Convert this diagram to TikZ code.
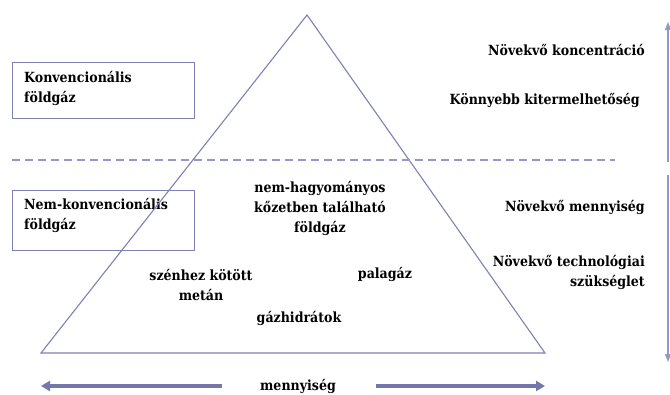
\documentclass[tikz,border=0pt]{standalone}
\usepackage{fontspec}
\setmainfont{DejaVu Serif Condensed}
\usetikzlibrary{arrows.meta}
\definecolor{lila}{HTML}{7E80B4}
\definecolor{lilalight}{HTML}{9597C9}
\definecolor{lilaarrow}{HTML}{7477AC}
\tikzset{
	lbl/.style={font=\fontsize{14}{20}\selectfont\bfseries, inner sep=0pt, align=center},
	lblr/.style={lbl, align=right, anchor=east},
	box/.style={draw=lila, line width=0.9pt, minimum width=182pt, minimum height=56pt, anchor=north west, inner sep=0pt},
	boxtext/.style={lbl, align=left, anchor=north west},
	thickarrow/.style={lilaarrow, line width=3.5pt, -{Triangle[length=9pt,width=10pt]}},
	thinarrow/.style={lilalight, line width=1.2pt, -{Triangle[length=8pt,width=6pt]}}
}
\begin{document}
\begin{tikzpicture}[x=1pt,y=-1pt]
			\useasboundingbox (0,0) rectangle (670,394);
			\coordinate (apex) at (307,15);
			\coordinate (bl) at (41,353);
			\coordinate (br) at (545,353);
			\coordinate (dl) at (12,160);
			\coordinate (dr) at (615,160);
			% boxes
			\node[box] (konv) at (12,62) {};
			\node[box, minimum height=60pt] (nemkonv) at (12,190) {};
			\node[boxtext] (konvtxt) at (24,71) {Konvencionális\\földgáz};
			\node[boxtext] (nemkonvtxt) at (24,198) {Nem-konvencionális\\földgáz};
			% triangle and line
			\draw[lila, line width=1.1pt, line join=miter] (apex) -- (br) -- (bl) -- cycle;
			\draw[lilalight, line width=1.6pt, dash pattern=on 8pt off 5pt] (dl) -- (dr);
			% inside
			\node[lbl] (kozet) at (320,208) {nem-hagyományos\\kőzetben található\\földgáz};
			\node[lbl] (szen) at (201,285) {szénhez kötött\\metán};
			\node[lbl] (pala) at (385,274) {palagáz};
			\node[lbl] (hidrat) at (299,318) {gázhidrátok};
			% right column
			\node[lblr] (konc) at (645,50) {Növekvő koncentráció};
			\node[lblr] (kiterm) at (640,100) {Könnyebb kitermelhetőség};
			\node[lblr] (menny) at (645,207) {Növekvő mennyiség};
			\node[lblr] (techn) at (645,272) {Növekvő technológiai\\szükséglet};
			\coordinate (up1) at (668,162);
			\coordinate (up2) at (668,22);
			\coordinate (dn1) at (668,175);
			\coordinate (dn2) at (668,362);
			\draw[thinarrow] (up1) -- (up2);
			\draw[thinarrow] (dn1) -- (dn2);
			% bottom
			\node[lbl] (mennyiseg) at (298,386) {mennyiség};
			\coordinate (la) at (222,386);
			\coordinate (ltip) at (41,386);
			\coordinate (ra) at (376,386);
			\coordinate (rtip) at (545,386);
			\draw[thickarrow] (la) -- (ltip);
			\draw[thickarrow] (ra) -- (rtip);
		\end{tikzpicture}
\end{document}
